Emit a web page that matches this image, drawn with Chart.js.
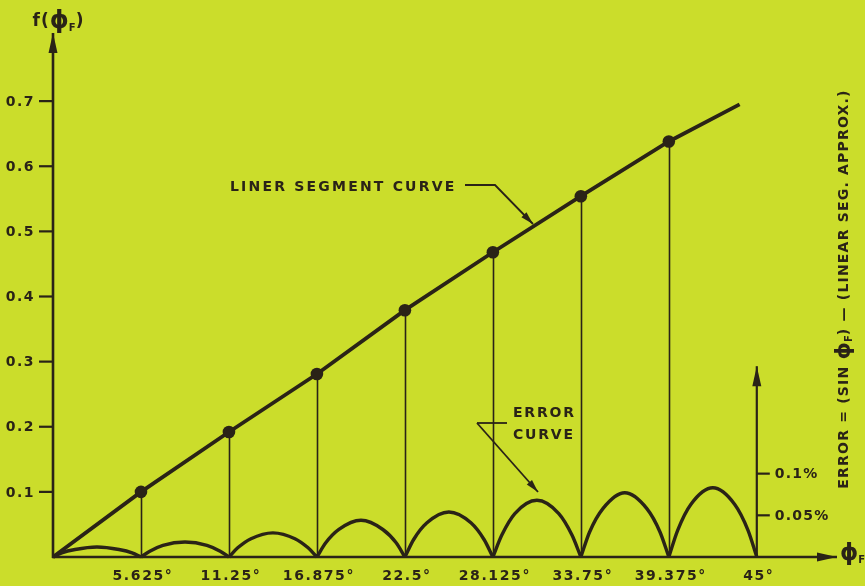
<!DOCTYPE html>
<html>
<head>
<meta charset="utf-8">
<script src="https://cdn.jsdelivr.net/npm/chart.js@4/dist/chart.umd.min.js"></script>
<style>
  html, body { margin: 0; padding: 0; background: #cbdd2b; }
  #wrap { width: 865px; height: 586px; }
</style>
</head>
<body>
<div id="wrap"><canvas id="chart" width="865" height="586"></canvas></div>
<script>
// Breakpoints of the linear-segment approximation (degrees) and f(phi) at each one
const nodeAngles = [5.625, 11.25, 16.875, 22.5, 28.125, 33.75, 39.375];
const nodeValues = [0.100, 0.192, 0.281, 0.379, 0.468, 0.554, 0.638];
// Ends of the drawn segment curve
const segmentStart = [0, 0];
const segmentEnd = [43.9, 0.695];

// Error curve (percent), one arch per segment, null separates arches
const errAngles = [
  0, 0.56, 1.41, 2.81, 4.22, 5.06, 5.625, 5.625,
  5.625, 6.19, 7.03, 8.44, 9.84, 10.69, 11.25, 11.25,
  11.25, 11.81, 12.66, 14.06, 15.47, 16.31, 16.875, 16.875,
  16.875, 17.44, 18.28, 19.69, 21.09, 21.94, 22.5, 22.5,
  22.5, 23.06, 23.91, 25.31, 26.72, 27.56, 28.125, 28.125,
  28.125, 28.69, 29.53, 30.94, 32.34, 33.19, 33.75, 33.75,
  33.75, 34.31, 35.16, 36.56, 37.97, 38.81, 39.375, 39.375,
  39.375, 39.94, 40.78, 42.19, 43.59, 44.44, 45
];
const errValues = [
  0, 0.005, 0.009, 0.012, 0.009, 0.005, 0, null,
  0, 0.007, 0.014, 0.018, 0.014, 0.007, 0, null,
  0, 0.011, 0.022, 0.029, 0.022, 0.011, 0, null,
  0, 0.017, 0.033, 0.044, 0.033, 0.017, 0, null,
  0, 0.021, 0.041, 0.054, 0.041, 0.021, 0, null,
  0, 0.026, 0.052, 0.068, 0.052, 0.026, 0, null,
  0, 0.030, 0.058, 0.077, 0.058, 0.030, 0, null,
  0, 0.032, 0.063, 0.083, 0.063, 0.032, 0
];

// Axis ticks
const xTickValues = [5.625, 11.25, 16.875, 22.5, 28.125, 33.75, 39.375, 45];
const xTickLabels = ['5.625°', '11.25°', '16.875°', '22.5°', '28.125°', '33.75°', '39.375°', '45°'];
const yTickValues = [0.1, 0.2, 0.3, 0.4, 0.5, 0.6, 0.7];
const yTickLabels = ['0.1', '0.2', '0.3', '0.4', '0.5', '0.6', '0.7'];
const errTickValues = [0.05, 0.1];
const errTickLabels = ['0.05%', '0.1%'];
const errAxisAngle = 45;
const errAxisTop = 0.293;   // top of the error axis arrow, in f(phi) units

const INK = '#2a2317';
const BG = '#cbdd2b';
const FONT = '"DejaVu Sans", "Liberation Sans", sans-serif';

const segmentData = [{ x: segmentStart[0], y: segmentStart[1] }]
  .concat(nodeAngles.map((a, i) => ({ x: a, y: nodeValues[i] })))
  .concat([{ x: segmentEnd[0], y: segmentEnd[1] }]);
const segmentRadius = segmentData.map((p, i) => (i === 0 || i === segmentData.length - 1) ? 0 : 6.3);
const errorData = errAngles.map((a, i) => ({ x: a, y: errValues[i] }));

function arrowHead(ctx, x1, y1, x2, y2, len, half) {
  const ang = Math.atan2(y2 - y1, x2 - x1);
  ctx.beginPath();
  ctx.moveTo(x2, y2);
  ctx.lineTo(x2 - len * Math.cos(ang) + half * Math.sin(ang), y2 - len * Math.sin(ang) - half * Math.cos(ang));
  ctx.lineTo(x2 - len * Math.cos(ang) - half * Math.sin(ang), y2 - len * Math.sin(ang) + half * Math.cos(ang));
  ctx.closePath();
  ctx.fill();
}

function arrowLine(ctx, pts, len, half, width) {
  ctx.lineWidth = width;
  ctx.beginPath();
  ctx.moveTo(pts[0][0], pts[0][1]);
  for (let i = 1; i < pts.length; i++) ctx.lineTo(pts[i][0], pts[i][1]);
  ctx.stroke();
  const n = pts.length;
  arrowHead(ctx, pts[n - 2][0], pts[n - 2][1], pts[n - 1][0], pts[n - 1][1], len, half);
}

// Draws runs of text with their own size / vertical offset (for subscripts)
function richText(ctx, parts, x, y, align) {
  ctx.textAlign = 'left';
  ctx.textBaseline = 'middle';
  let total = 0;
  parts.forEach(p => { ctx.font = p.font; ctx.letterSpacing = p.ls || '0px'; p.w = ctx.measureText(p.text).width; total += p.w; });
  let cx = align === 'center' ? x - total / 2 : (align === 'right' ? x - total : x);
  parts.forEach(p => {
    ctx.font = p.font; ctx.letterSpacing = p.ls || '0px';
    ctx.fillText(p.text, cx, y + (p.dy || 0));
    cx += p.w;
  });
  ctx.letterSpacing = '0px';
}

const artwork = {
  id: 'artwork',
  beforeDraw(chart) {
    const ctx = chart.ctx;
    ctx.save();
    ctx.fillStyle = BG;
    ctx.fillRect(0, 0, chart.width, chart.height);
    ctx.restore();
  },
  beforeDatasetsDraw(chart) {
    const ctx = chart.ctx, xs = chart.scales.x, ys = chart.scales.y;
    ctx.save();
    ctx.strokeStyle = INK;
    ctx.lineWidth = 1.6;
    nodeAngles.forEach((a, i) => {
      const px = Math.round(xs.getPixelForValue(a)) + 0.5;
      ctx.beginPath();
      ctx.moveTo(px, ys.getPixelForValue(nodeValues[i]));
      ctx.lineTo(px, ys.getPixelForValue(0));
      ctx.stroke();
    });
    ctx.restore();
  },
  afterDatasetsDraw(chart) {
    const ctx = chart.ctx, xs = chart.scales.x, ys = chart.scales.y, es = chart.scales.yErr;
    const x0 = xs.getPixelForValue(0), y0 = ys.getPixelForValue(0);
    ctx.save();
    ctx.strokeStyle = INK;
    ctx.fillStyle = INK;
    ctx.lineCap = 'butt';

    // main axes
    arrowLine(ctx, [[x0, y0 + 1], [x0, ys.top - 3]], 20, 4.5, 2.6);
    arrowLine(ctx, [[x0 - 1, y0], [xs.right + 2, y0]], 20, 4.5, 2.6);
    // error axis at 45 degrees
    const ex = xs.getPixelForValue(errAxisAngle);
    arrowLine(ctx, [[ex, y0], [ex, ys.getPixelForValue(errAxisTop)]], 20, 4.5, 2.2);

    const lab = 'bold 14px ' + FONT;
    // left ticks and labels
    ctx.lineWidth = 2.2;
    yTickValues.forEach((v, i) => {
      const py = ys.getPixelForValue(v);
      ctx.beginPath(); ctx.moveTo(x0 - 14, py); ctx.lineTo(x0, py); ctx.stroke();
      richText(ctx, [{ text: yTickLabels[i], font: lab, ls: '1.5px' }], x0 - 18, py + 1, 'right');
    });
    // error ticks and labels
    errTickValues.forEach((v, i) => {
      const py = es.getPixelForValue(v);
      ctx.beginPath(); ctx.moveTo(ex, py); ctx.lineTo(ex + 13, py); ctx.stroke();
      richText(ctx, [{ text: errTickLabels[i], font: lab, ls: '1.2px' }], ex + 18, py + 1, 'left');
    });
    // x labels
    xTickValues.forEach((v, i) => {
      richText(ctx, [{ text: xTickLabels[i], font: lab, ls: '1.6px' }], xs.getPixelForValue(v) + 2, y0 + 19, 'center');
    });

    // axis titles
    const sub = 'bold 10px ' + FONT;
    richText(ctx, [
      { text: 'f(', font: 'bold 17px ' + FONT, ls: '1px' },
      { text: 'ϕ', font: 'bold 24px ' + FONT },
      { text: 'F', font: sub, dy: 6 },
      { text: ')', font: 'bold 17px ' + FONT }
    ], x0 + 5, 22, 'center');
    richText(ctx, [
      { text: 'ϕ', font: 'bold 23px ' + FONT },
      { text: 'F', font: sub, dy: 6 }
    ], 840, y0 - 3, 'left');

    ctx.save();
    ctx.translate(844, 289);
    ctx.rotate(-Math.PI / 2);
    richText(ctx, [
      { text: 'ERROR = (SIN ', font: lab, ls: '1.2px' },
      { text: 'ϕ', font: 'bold 22px ' + FONT },
      { text: 'F', font: sub, dy: 5 },
      { text: ') — (LINEAR SEG. APPROX.)', font: lab, ls: '1.2px' }
    ], 0, 0, 'center');
    ctx.restore();

    // callouts
    richText(ctx, [{ text: 'LINER SEGMENT CURVE', font: lab, ls: '2.2px' }], 230, 187, 'left');
    arrowLine(ctx, [[465, 185], [495, 185], [533, 224]], 13, 3.5, 1.8);

    richText(ctx, [{ text: 'ERROR', font: lab, ls: '1.8px' }], 513, 413, 'left');
    richText(ctx, [{ text: 'CURVE', font: lab, ls: '1.8px' }], 513, 435, 'left');
    ctx.beginPath(); ctx.moveTo(477, 423); ctx.lineTo(507, 423); ctx.stroke();
    arrowLine(ctx, [[477, 423], [538, 492]], 13, 3.5, 1.8);

    ctx.restore();
  }
};

new Chart(document.getElementById('chart'), {
  type: 'line',
  data: {
    datasets: [
      {
        label: 'Linear segment curve',
        data: segmentData,
        yAxisID: 'y',
        borderColor: INK,
        borderWidth: 3.8,
        pointRadius: segmentRadius,
        pointBackgroundColor: INK,
        pointBorderWidth: 0,
        tension: 0,
        clip: false
      },
      {
        label: 'Error curve',
        data: errorData,
        yAxisID: 'yErr',
        borderColor: INK,
        borderWidth: 3.4,
        pointRadius: 0,
        cubicInterpolationMode: 'monotone',
        spanGaps: false,
        clip: false
      }
    ]
  },
  options: {
    responsive: false,
    animation: false,
    devicePixelRatio: 1,
    layout: { padding: { left: 53, right: 30, top: 36, bottom: 29 } },
    scales: {
      x: { type: 'linear', min: 0, max: 50, display: false },
      y: { type: 'linear', min: 0, max: 0.8, display: false },
      yErr: { type: 'linear', min: 0, max: 0.625, display: false, position: 'right' }
    },
    plugins: { legend: { display: false }, tooltip: { enabled: false } }
  },
  plugins: [artwork]
});
</script>
</body>
</html>
